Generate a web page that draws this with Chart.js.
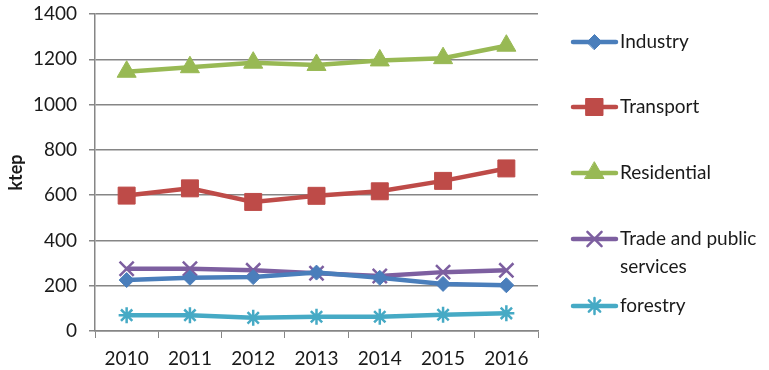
<!DOCTYPE html>
<html>
<head>
<meta charset="utf-8">
<script src="https://cdn.jsdelivr.net/npm/chart.js@4/dist/chart.umd.min.js"></script>
<style>
	html, body { margin: 0; padding: 0; background: #fff; }
	#wrap { width: 769px; height: 370px; position: relative; }
</style>
</head>
<body>
<div id="wrap"><canvas id="energyChart"></canvas></div>
<script>
// years and consumption by sector (ktep)
const years = ["2010", "2011", "2012", "2013", "2014", "2015", "2016"];
const industry = [225, 235, 238, 258, 235, 208, 202];
const transport = [598, 630, 570, 597, 617, 663, 718];
const residential = [1145, 1165, 1185, 1175, 1195, 1205, 1260];
const tradePublic = [275, 275, 268, 255, 243, 260, 268];
const forestry = [70, 70, 58, 63, 63, 72, 78];
const yTicks = [0, 200, 400, 600, 800, 1000, 1200, 1400];

const FONT = "Lato, 'Liberation Sans', sans-serif";

function series(label, data, color, style, radius, border) {
	return {
		label: label,
		data: data,
		borderColor: color,
		backgroundColor: color,
		borderWidth: 4.5,
		pointStyle: style,
		pointRadius: radius,
		pointHoverRadius: radius,
		pointBorderWidth: border,
		pointBorderColor: color,
		pointBackgroundColor: color,
		tension: 0,
		// legend text may span two lines
		legendLines: label === "Trade and public services" ? ["Trade and public", "services"] : [label],
	};
}

const datasets = [
	series("Industry", industry, "#4a7ebb", "rectRot", 7.5, 1),
	series("Transport", transport, "#be4b48", "rect", 12, 1),
	series("Residential", residential, "#98b954", "triangle", 11, 1),
	series("Trade and public services", tradePublic, "#7d5fa0", "crossRot", 10, 2.5),
	series("forestry", forestry, "#46aac5", "star", 8, 2.5),
];

// legend drawn on the canvas so long labels can wrap
const sideLegend = {
	id: "sideLegend",
	afterDraw(chart) {
		const ctx = chart.ctx;
		const rows = [42, 107, 173, 239, 306];
		ctx.save();
		ctx.font = "19px " + FONT;
		ctx.textBaseline = "middle";
		chart.data.datasets.forEach((ds, i) => {
			const y = rows[i];
			ctx.strokeStyle = ds.borderColor;
			ctx.lineWidth = 4.5;
			ctx.lineCap = "round";
			ctx.beginPath();
			ctx.moveTo(573, y);
			ctx.lineTo(616, y);
			ctx.stroke();
			ctx.lineWidth = ds.pointBorderWidth;
			ctx.fillStyle = ds.pointBackgroundColor;
			Chart.helpers.drawPoint(ctx, {
				pointStyle: ds.pointStyle,
				radius: ds.pointRadius,
				rotation: 0,
				borderWidth: ds.pointBorderWidth,
			}, 594.5, y);
			ctx.fillStyle = "#1a1a1a";
			ds.legendLines.forEach((line, j) => {
				ctx.fillText(line, 620, y + j * 28);
			});
		});
		ctx.restore();
	},
};

const ctx = document.getElementById("energyChart").getContext("2d");
new Chart(ctx, {
	type: "line",
	data: {
		labels: years,
		datasets: datasets,
	},
	options: {
		responsive: true,
		maintainAspectRatio: false,
		animation: false,
		layout: {
			padding: { top: 14, right: 231, bottom: 0, left: 0 },
		},
		plugins: {
			legend: { display: false },
			tooltip: { enabled: false },
		},
		scales: {
			x: {
				type: "category",
				offset: true,
				grid: {
					offset: true,
					drawOnChartArea: false,
					drawTicks: true,
					tickLength: 7,
					color: "#868686",
				},
				border: { color: "#868686", width: 1.5 },
				ticks: {
					color: "#1a1a1a",
					font: { family: FONT, size: 19 },
					padding: 9,
					maxRotation: 0,
				},
				afterFit(scale) {
					scale.height = 39;
					scale.paddingLeft = 0;
					scale.paddingRight = 0;
				},
			},
			y: {
				min: 0,
				max: 1400,
				afterBuildTicks(scale) {
					scale.ticks = yTicks.map((v) => ({ value: v }));
				},
				grid: {
					color: "#868686",
					lineWidth: 1.5,
					tickLength: 6,
				},
				border: { color: "#868686", width: 1.5 },
				ticks: {
					color: "#1a1a1a",
					font: { family: FONT, size: 19 },
					padding: 12,
					callback: (v) => String(v),
				},
				title: {
					display: true,
					text: "ktep",
					color: "#1a1a1a",
					font: { family: FONT, size: 18, weight: "bold" },
					padding: { top: 5, bottom: 0 },
				},
				afterFit(scale) {
					scale.width = 95;
					scale.paddingTop = 0;
					scale.paddingBottom = 0;
				},
			},
		},
	},
	plugins: [sideLegend],
});
</script>
</body>
</html>
